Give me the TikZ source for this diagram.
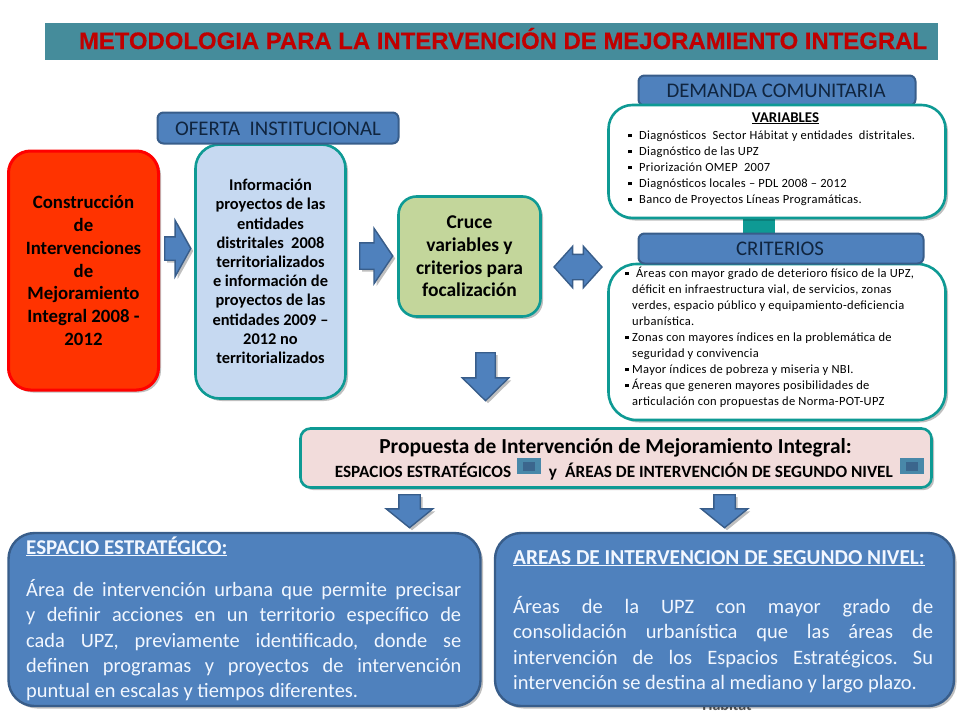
\documentclass[tikz,border=0pt]{standalone}
\usepackage{fontspec}
\setmainfont{Carlito}
\newfontfamily\arialf[FakeBold=0.4]{Liberation Sans}
\usetikzlibrary{shapes.arrows,shadows}
\definecolor{hdrblue}{HTML}{4F81BD}
\definecolor{hdredge}{HTML}{385D8A}
\definecolor{tealedge}{HTML}{0E9A94}
\definecolor{banner}{HTML}{458C9B}
\definecolor{titlered}{HTML}{C00000}
\definecolor{navytext}{HTML}{10253F}
\definecolor{lightblue}{HTML}{C6D9F1}
\definecolor{lightgreen}{HTML}{C3D69B}
\definecolor{lightpink}{HTML}{F2DCDB}
\definecolor{redfill}{HTML}{FF3300}
\definecolor{paletext}{HTML}{F2F7FF}
\newcommand{\fsz}[2]{\fontsize{#1}{#2}\selectfont}
\newcommand{\bul}{\rule[2pt]{3.5pt}{3.5pt}\hspace{7.5pt}}
\newcommand{\bulb}{\rule[2pt]{3.5pt}{3.5pt}\hspace{3.5pt}}
\frenchspacing
\tikzset{
  softshadow/.style={drop shadow={shadow xshift=2.5pt,shadow yshift=-2.5pt,opacity=.25,fill=black}},
  box/.style={rectangle,inner sep=0pt,line width=2.6pt,text=black},
  tealbox/.style={box,draw=tealedge},
  hdr/.style={rectangle,rounded corners=6pt,fill=hdrblue,draw=hdredge,line width=2pt,inner sep=0pt},
  hdrtext/.style={anchor=base,inner sep=0pt,text=navytext,font=\fsz{20.8}{24}},
  bluepanel/.style={rectangle,rounded corners=26pt,fill=hdrblue,draw=hdredge,line width=2.4pt,inner sep=0pt,softshadow},
  paneltext/.style={inner sep=0pt,text=paletext},
  rarrow/.style={single arrow,fill=hdrblue,draw=hdredge,line width=1.4pt,inner xsep=0pt,anchor=tail,softshadow},
  darrow/.style={rarrow,shape border rotate=270,inner ysep=0pt},
  iconbox/.style={rectangle,fill=#1,inner sep=0pt},
  smalltext/.style={anchor=west,inner sep=0pt,align=left,font=\fsz{12.5}{16}\addfontfeature{LetterSpace=2.5}},
}
\begin{document}
\begin{tikzpicture}[x=1pt,y=-1pt]
\useasboundingbox (0,0) rectangle (960,720);

% banner
\node[rectangle,fill=banner,minimum width=893pt,minimum height=37pt,inner sep=0pt] (banner) at (491.5,41.5) {};
\node[anchor=base,inner sep=0pt,text=titlered,font=\arialf\bfseries\fsz{23.9}{26}] (title) at (503,49) {METODOLOGIA PARA LA INTERVENCIÓN DE MEJORAMIENTO INTEGRAL};

% red box
\node[box,softshadow,draw=red,fill=redfill,rounded corners=22pt,line width=3pt,minimum width=150pt,minimum height=239pt,
  align=center,font=\bfseries\fsz{18.8}{22.7}] (red) at (83.5,270.5)
  {Construcción\\de\\Intervenciones\\de\\Mejoramiento\\Integral 2008 -\\2012};

% information box
\node[tealbox,softshadow,fill=lightblue,rounded corners=24pt,minimum width=150pt,minimum height=254pt,
  align=center,font=\bfseries\fsz{16.4}{19.2}] (info) at (270.5,271.5)
  {Información\\proyectos de las\\entidades\\distritales\ \ 2008\\territorializados\\e información de\\proyectos de las\\entidades 2009 –\\2012 no\\territorializados};
\node[hdr,minimum width=241pt,minimum height=31pt] (oferta) at (278,128) {};
\node[hdrtext] (ofertatxt) at (278,135) {OFERTA\ \ INSTITUCIONAL};

% green box
\node[tealbox,softshadow,fill=lightgreen,rounded corners=18pt,minimum width=142pt,minimum height=120pt,
  align=center,font=\bfseries\fsz{19.5}{22.6}] (green) at (469.5,256.5)
  {Cruce\\variables y\\criterios para\\focalización};

% demanda group
\node[hdr,minimum width=277pt,minimum height=30pt] (demanda) at (777,90.5) {};
\node[hdrtext] (demandatxt) at (776,97.5) {DEMANDA COMUNITARIA};
\node[rectangle,fill=tealedge,minimum width=32pt,minimum height=18pt,inner sep=0pt] (link) at (759,226) {};
\node[tealbox,softshadow,fill=white,rounded corners=24pt,minimum width=337pt,minimum height=113pt] (vars) at (777,161.5) {};
\node[anchor=base,inner sep=0pt,font=\bfseries\fsz{14.9}{16}] (varstit) at (785.5,122) {\underline{VARIABLES}};
\node[smalltext] (varstxt) at (628,168)
  {\bul Diagnósticos\ \ Sector Hábitat y entidades\ \ distritales.\\
   \bul Diagnóstico de las UPZ\\
   \bul Priorización OMEP\ \ 2007\\
   \bul Diagnósticos locales – PDL 2008 – 2012\\
   \bul Banco de Proyectos Líneas Programáticas.};

% criterios group
\node[tealbox,softshadow,fill=white,rounded corners=28pt,minimum width=337pt,minimum height=156pt] (crit) at (777,342) {};
\node[hdr,minimum width=285pt,minimum height=30pt] (criterios) at (781,248.5) {};
\node[hdrtext] (criteriostxt) at (780,255.5) {CRITERIOS};
\node[smalltext] (crittxt) at (625,337)
  {\bul Áreas con mayor grado de deterioro físico de la UPZ,\\
   \hspace{7pt}déficit en infraestructura vial, de servicios, zonas\\
   \hspace{7pt}verdes, espacio público y equipamiento-deficiencia\\
   \hspace{7pt}urbanística.\\
   \bulb Zonas con mayores índices en la problemática de\\
   \hspace{7pt}seguridad y convivencia\\
   \bulb Mayor índices de pobreza y miseria y NBI.\\
   \bulb Áreas que generen mayores posibilidades de\\
   \hspace{7pt}articulación con propuestas de Norma-POT-UPZ};

% proposal box
\node[tealbox,softshadow,fill=lightpink,rounded corners=10pt,minimum width=631pt,minimum height=59pt] (prop) at (616,458) {};
\node[anchor=base,inner sep=0pt,font=\bfseries\fsz{21.4}{24}] (proptit) at (615.5,453) {Propuesta de Intervención de Mejoramiento Integral:};
\node[anchor=base,inner sep=0pt,font=\bfseries\fsz{17.2}{18}] (propa) at (423,477) {ESPACIOS ESTRATÉGICOS};
\node[anchor=base,inner sep=0pt,font=\bfseries\fsz{17.2}{18}] (propy) at (553,477) {y};
\node[anchor=base,inner sep=0pt,font=\bfseries\fsz{17.2}{18}] (propb) at (729,477) {ÁREAS DE INTERVENCIÓN DE SEGUNDO NIVEL};
\node[iconbox=banner!60!hdrblue,minimum width=24pt,minimum height=16pt] (icona) at (529,466) {};
\node[iconbox=hdredge!80!banner,minimum width=12pt,minimum height=9pt] (iconai) at (529,466) {};
\node[iconbox=banner!60!hdrblue,minimum width=24pt,minimum height=16pt] (iconb) at (912,466) {};
\node[iconbox=hdredge!80!banner,minimum width=12pt,minimum height=9pt] (iconbi) at (912,466) {};

% block arrows
\node[rarrow,inner ysep=11pt,single arrow head extend=16.5pt,single arrow tip angle=122,minimum width=55pt,minimum height=26pt] (arrowa) at (164,248.5) {};
\node[rarrow,inner ysep=12.5pt,single arrow head extend=14.5pt,single arrow tip angle=112,minimum width=54pt,minimum height=33pt] (arrowb) at (359,256) {};
\node[double arrow,fill=hdrblue,draw=hdredge,line width=1.4pt,inner xsep=0pt,inner ysep=12pt,double arrow head extend=8pt,double arrow tip angle=96,
  minimum width=40pt,minimum height=48pt] (arrowc) at (578,267) {};
\node[darrow,inner xsep=9pt,single arrow head extend=13.5pt,single arrow tip angle=91,minimum width=45pt,minimum height=48pt] (arrowd) at (485.5,352) {};
\node[darrow,inner xsep=10pt,single arrow head extend=12.5pt,single arrow tip angle=102,minimum width=45pt,minimum height=33pt] (arrowe) at (409.5,494) {};
\node[darrow,inner xsep=10pt,single arrow head extend=12.5pt,single arrow tip angle=102,minimum width=45pt,minimum height=33pt] (arrowf) at (724.5,494) {};

% bottom panels
\node[anchor=base,inner sep=0pt,text=black!65,font=\bfseries\fsz{16}{18}] (habitat) at (727,710) {Hábitat};
\node[bluepanel,minimum width=472pt,minimum height=173pt] (panela) at (244.5,619.5) {};
\node[anchor=base west,paneltext,font=\bfseries\fsz{21}{24}] (panelatit) at (26,554) {\underline{ESPACIO ESTRATÉGICO:}};
\node[anchor=north west,paneltext,text width=435pt,align=justify,font=\fsz{20.4}{25.4}] (panelatxt) at (26,579)
  {Área de intervención urbana que permite precisar\linebreak
   y definir acciones en un territorio específico de\linebreak
   cada UPZ, previamente identificado, donde se\linebreak
   definen programas y proyectos de intervención\linebreak
   puntual en escalas y tiempos diferentes.};
\node[bluepanel,minimum width=459pt,minimum height=173pt] (panelb) at (724.5,619.5) {};
\node[anchor=base west,paneltext,font=\bfseries\fsz{21.3}{24}] (panelbtit) at (513,564) {\underline{AREAS DE INTERVENCION DE SEGUNDO NIVEL:}};
\node[anchor=north west,paneltext,text width=420pt,align=justify,font=\fsz{20.5}{25.4}] (panelbtxt) at (513,596)
  {Áreas de la UPZ con mayor grado de\linebreak
   consolidación urbanística que las áreas de\linebreak
   intervención de los Espacios Estratégicos. Su\linebreak
   intervención se destina al mediano y largo plazo.};
\end{tikzpicture}
\end{document}
